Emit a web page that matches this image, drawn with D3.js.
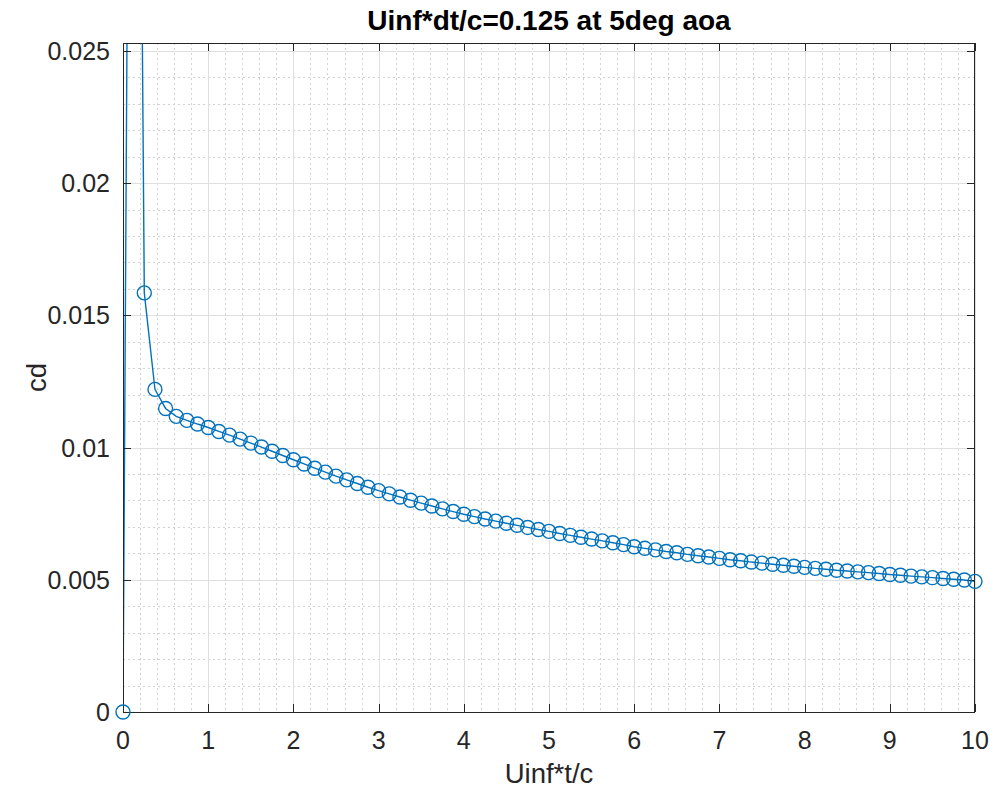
<!DOCTYPE html>
<html>
<head>
<meta charset="utf-8">
<script src="https://cdn.jsdelivr.net/npm/d3@7/dist/d3.min.js"></script>
<style>
  html, body { margin: 0; padding: 0; background: #ffffff; }
  svg { display: block; }
  text { font-family: "Liberation Sans", Arial, Helvetica, sans-serif; fill: #262626; }
</style>
</head>
<body>
<svg id="chart" width="994" height="794"></svg>
<script>
// Drag coefficient history, time step Uinf*dt/c = 0.125
const stepSize = 0.125;
const timeSteps = d3.range(0, 81).map(i => i * stepSize);
const cdValues = [
  0.0, 68.0, 15.85, 12.2, 11.48, 11.18, 11.03, 10.89,
  10.76, 10.61, 10.47, 10.32, 10.17, 10.02, 9.86, 9.70,
  9.54, 9.38, 9.22, 9.07, 8.92, 8.78, 8.64, 8.50,
  8.37, 8.25, 8.13, 8.01, 7.90, 7.79, 7.68, 7.58,
  7.48, 7.39, 7.30, 7.22, 7.14, 7.06, 6.98, 6.90,
  6.83, 6.75, 6.68, 6.61, 6.54, 6.47, 6.40, 6.33,
  6.25, 6.19, 6.13, 6.07, 6.02, 5.96, 5.91, 5.86,
  5.81, 5.76, 5.72, 5.67, 5.63, 5.59, 5.55, 5.51,
  5.47, 5.43, 5.40, 5.36, 5.33, 5.30, 5.27, 5.24,
  5.20, 5.17, 5.14, 5.11, 5.08, 5.05, 5.02, 4.99,
  4.94
].map(v => v / 1000);

const xTicks = [0, 1, 2, 3, 4, 5, 6, 7, 8, 9, 10];
const yTicks = [0, 0.005, 0.01, 0.015, 0.02, 0.025];
const yTickLabels = ["0", "0.005", "0.01", "0.015", "0.02", "0.025"];
const xMinorTicks = d3.range(0, 51).map(i => i * 0.2);
const yMinorTicks = d3.range(0, 26).map(i => i * 0.001);

const titleText = "Uinf*dt/c=0.125 at 5deg aoa";
const xLabelText = "Uinf*t/c";
const yLabelText = "cd";

const data = timeSteps.map((t, i) => ({ t, cd: cdValues[i] }));

const box = { left: 123, right: 975, top: 43, bottom: 712 };
const x = d3.scaleLinear().domain([0, 10]).range([box.left, box.right]);
const y = d3.scaleLinear().domain([0, 0.0253]).range([box.bottom, box.top]);

const svg = d3.select("#chart");
const lineColor = "#0072BD";
const axisColor = "#262626";
const tickFont = 25;
const labelFont = 27.5;

// plot area background
svg.append("rect")
  .attr("x", box.left).attr("y", box.top)
  .attr("width", box.right - box.left).attr("height", box.bottom - box.top)
  .attr("fill", "#ffffff");

// minor grid
const grid = svg.append("g");
grid.selectAll("line.xminor")
  .data(xMinorTicks.filter(v => Math.abs(v - Math.round(v)) > 1e-9))
  .join("line")
  .attr("x1", d => Math.round(x(d)) + 0.5).attr("x2", d => Math.round(x(d)) + 0.5)
  .attr("y1", box.top).attr("y2", box.bottom)
  .attr("stroke", "#d2d2d2").attr("stroke-width", 1).attr("stroke-dasharray", "2,3");
grid.selectAll("line.yminor")
  .data(yMinorTicks.filter(v => Math.abs(v / 0.005 - Math.round(v / 0.005)) > 1e-6))
  .join("line")
  .attr("y1", d => Math.round(y(d)) + 0.5).attr("y2", d => Math.round(y(d)) + 0.5)
  .attr("x1", box.left).attr("x2", box.right)
  .attr("stroke", "#d2d2d2").attr("stroke-width", 1).attr("stroke-dasharray", "2,3");

// major grid
grid.selectAll("line.xmajor")
  .data(xTicks)
  .join("line")
  .attr("x1", d => Math.round(x(d)) + 0.5).attr("x2", d => Math.round(x(d)) + 0.5)
  .attr("y1", box.top).attr("y2", box.bottom)
  .attr("stroke", "#dfdfdf").attr("stroke-width", 1);
grid.selectAll("line.ymajor")
  .data(yTicks)
  .join("line")
  .attr("y1", d => Math.round(y(d)) + 0.5).attr("y2", d => Math.round(y(d)) + 0.5)
  .attr("x1", box.left).attr("x2", box.right)
  .attr("stroke", "#dfdfdf").attr("stroke-width", 1);

// data line, clipped to the axes
svg.append("clipPath").attr("id", "plotClip")
  .append("rect")
  .attr("x", box.left).attr("y", box.top)
  .attr("width", box.right - box.left).attr("height", box.bottom - box.top);

const line = d3.line().x(d => x(d.t)).y(d => y(d.cd));
svg.append("path")
  .datum(data)
  .attr("clip-path", "url(#plotClip)")
  .attr("d", line)
  .attr("fill", "none")
  .attr("stroke", lineColor)
  .attr("stroke-width", 1.4);

// axes box and ticks (ticks on all four sides, pointing inward)
const axes = svg.append("g");
const tickLen = 8;
axes.selectAll("line.xtb")
  .data(xTicks)
  .join("line")
  .attr("x1", d => Math.round(x(d)) + 0.5).attr("x2", d => Math.round(x(d)) + 0.5)
  .attr("y1", box.bottom).attr("y2", box.bottom - tickLen)
  .attr("stroke", axisColor);
axes.selectAll("line.xtt")
  .data(xTicks)
  .join("line")
  .attr("x1", d => Math.round(x(d)) + 0.5).attr("x2", d => Math.round(x(d)) + 0.5)
  .attr("y1", box.top).attr("y2", box.top + tickLen)
  .attr("stroke", axisColor);
axes.selectAll("line.ytl")
  .data(yTicks)
  .join("line")
  .attr("y1", d => Math.round(y(d)) + 0.5).attr("y2", d => Math.round(y(d)) + 0.5)
  .attr("x1", box.left).attr("x2", box.left + tickLen)
  .attr("stroke", axisColor);
axes.selectAll("line.ytr")
  .data(yTicks)
  .join("line")
  .attr("y1", d => Math.round(y(d)) + 0.5).attr("y2", d => Math.round(y(d)) + 0.5)
  .attr("x1", box.right).attr("x2", box.right - tickLen)
  .attr("stroke", axisColor);
axes.append("rect")
  .attr("x", box.left + 0.5).attr("y", box.top + 0.5)
  .attr("width", box.right - box.left - 1).attr("height", box.bottom - box.top)
  .attr("fill", "none").attr("stroke", axisColor).attr("stroke-width", 1);

// circle markers for every sample inside the axes limits
svg.append("g")
  .selectAll("circle")
  .data(data.filter(d => d.cd <= y.domain()[1] && d.t <= x.domain()[1]))
  .join("circle")
  .attr("cx", d => x(d.t))
  .attr("cy", d => y(d.cd))
  .attr("r", 7)
  .attr("fill", "none")
  .attr("stroke", lineColor)
  .attr("stroke-width", 1.4);

// tick labels
svg.append("g").selectAll("text")
  .data(xTicks)
  .join("text")
  .attr("x", d => x(d))
  .attr("y", 749)
  .attr("text-anchor", "middle")
  .attr("font-size", tickFont)
  .text(d => d);
svg.append("g").selectAll("text")
  .data(yTicks)
  .join("text")
  .attr("x", 110)
  .attr("y", d => y(d) + 9)
  .attr("text-anchor", "end")
  .attr("font-size", tickFont)
  .text((d, i) => yTickLabels[i]);

// title and axis labels
svg.append("text")
  .attr("x", (box.left + box.right) / 2)
  .attr("y", 30)
  .attr("text-anchor", "middle")
  .attr("font-size", 28)
  .attr("font-weight", "bold")
  .style("fill", "#000000")
  .text(titleText);
svg.append("text")
  .attr("x", (box.left + box.right) / 2)
  .attr("y", 783)
  .attr("text-anchor", "middle")
  .attr("font-size", labelFont)
  .text(xLabelText);
svg.append("text")
  .attr("transform", `translate(46, ${(box.top + box.bottom) / 2}) rotate(-90)`)
  .attr("text-anchor", "middle")
  .attr("font-size", labelFont)
  .text(yLabelText);
</script>
</body>
</html>
